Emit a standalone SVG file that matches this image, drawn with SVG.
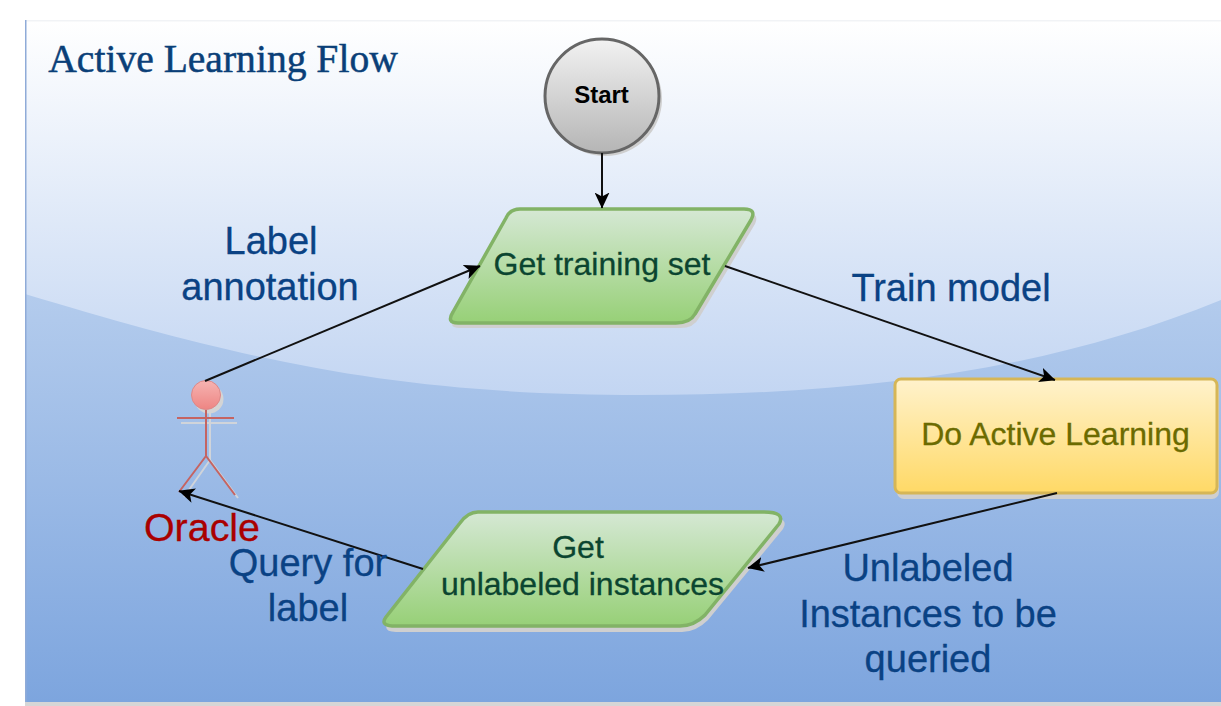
<svg xmlns="http://www.w3.org/2000/svg" width="1221" height="706" viewBox="0 0 1221 706">
<defs>
<linearGradient id="bg" gradientUnits="userSpaceOnUse" x1="0" y1="20" x2="0" y2="400"><stop offset="0" stop-color="#ffffff"/><stop offset="1" stop-color="#c2d5f2"/></linearGradient>
<linearGradient id="bg2" gradientUnits="userSpaceOnUse" x1="0" y1="290" x2="0" y2="702"><stop offset="0" stop-color="#b4cced"/><stop offset="1" stop-color="#7da5de"/></linearGradient>
<linearGradient id="grey" x1="0" y1="0" x2="0" y2="1"><stop offset="0" stop-color="#f2f2f2"/><stop offset="1" stop-color="#b5b5b5"/></linearGradient>
<linearGradient id="green" x1="0" y1="0" x2="0" y2="1"><stop offset="0" stop-color="#d5e8d4"/><stop offset="1" stop-color="#97d077"/></linearGradient>
<linearGradient id="yellow" x1="0" y1="0" x2="0" y2="1"><stop offset="0" stop-color="#fff2cc"/><stop offset="1" stop-color="#ffd966"/></linearGradient>
<linearGradient id="red" x1="0" y1="0" x2="0" y2="1"><stop offset="0" stop-color="#f6b4b2"/><stop offset="1" stop-color="#ee8583"/></linearGradient>
<marker id="arrow" viewBox="0 0 16 15" refX="15.5" refY="7.5" markerWidth="16" markerHeight="15" markerUnits="userSpaceOnUse" orient="auto"><path d="M0 0L16 7.5L0 15L4 7.5Z" fill="#000"/></marker>
</defs>
<style>
text{font-family:"Liberation Sans",Arial,sans-serif;text-anchor:middle}
.lbl{font-size:38px;fill:#0a4284;stroke:#0a4284;stroke-width:.3}
.node{font-size:32px;fill:#0b4530;stroke:#0b4530;stroke-width:.3}
.conn{fill:none;stroke:#111;stroke-width:2;marker-end:url(#arrow)}
.shadow{fill:#cfcfcf;stroke:none}
.para{fill:url(#green);stroke:#82b366;stroke-width:3.5;stroke-linejoin:round}
.fig{stroke:#c56462;stroke-width:2;fill:none}
.figs{stroke:#d0d4da;stroke-width:2;fill:none}
</style>
<rect width="1221" height="706" fill="#fff"/>
<g id="background">
<rect x="25" y="20" width="1196" height="682" fill="url(#bg)"/>
<rect x="25" y="20" width="1196" height="1.5" fill="#f1f3f6"/>
<path d="M25 294C250 362 400 395 640 395C860 395 1050 370 1221 300V702H25Z" fill="url(#bg2)"/>
<rect x="25" y="20" width="1.5" height="682" fill="#8fabd8"/>
<rect x="25" y="702" width="1196" height="4" fill="#d6d6d6"/>
</g>
<text id="title" x="223" y="72" style="font-family:'Liberation Serif',serif;font-size:39.6px;fill:#0a3f78;stroke:#0a3f78;stroke-width:.5">Active Learning Flow</text>
<g id="start">
<circle cx="605" cy="99" r="57" class="shadow"/>
<circle cx="602" cy="96" r="57" fill="url(#grey)" stroke="#666" stroke-width="3"/>
<text x="601.500" y="103" style="font-size:24px;font-weight:bold;fill:#000">Start</text>
</g>
<g id="get-training-set">
<path class="shadow" d="M521 213H747Q760 213 755 224L699 318Q694 328 680 328H460Q447 328 455 316L509 222Q513 213 521 213Z"/>
<path class="para" d="M520 209H744Q757 209 751 220L695 314Q690 323 676 323H458Q446 323 453 312L506 218Q510 209 520 209Z"/>
<text class="node" x="602" y="275">Get training set</text>
</g>
<g id="do-active-learning">
<rect x="897" y="384" width="322" height="115" rx="7" class="shadow"/>
<rect x="895" y="379" width="322" height="114" rx="6" fill="url(#yellow)" stroke="#d6b656" stroke-width="3"/>
<text x="1055.500" y="445" style="font-size:32px;fill:#6b6b00;stroke:#6b6b00;stroke-width:.3">Do Active Learning</text>
</g>
<g id="get-unlabeled-instances">
<path class="shadow" d="M482 517H768Q790 517 783 529L708 620Q696 632 682 632H396Q382 632 388 622L462 528Q470 517 482 517Z"/>
<path class="para" d="M478 512H764Q786 512 779 524L705 615Q694 626 680 626H392Q380 625 386 617L460 523Q468 512 478 512Z"/>
<text class="node" x="578" y="558">Get</text>
<text class="node" x="582.500" y="595">unlabeled instances</text>
</g>
<g id="oracle">
<path class="figs" d="M210 410V460M181 423H237M210 460L184 497M210 460L238 498"/>
<circle cx="209" cy="399" r="14.5" fill="#d4d4d4"/>
<circle cx="206" cy="395" r="14.5" fill="url(#red)" stroke="#d88" stroke-width="1"/>
<path class="fig" d="M206 410V456M177 418H234M206 456L179 492M206 456L235 495"/>
<text x="202" y="541" style="font-size:39.400px;fill:#aa0000;stroke:#aa0000;stroke-width:.3">Oracle</text>
</g>
<g id="connectors">
<line class="conn" x1="602" y1="153" x2="602" y2="208"/>
<line class="conn" x1="205" y1="381" x2="480" y2="266"/>
<line class="conn" x1="725" y1="266" x2="1055" y2="380"/>
<line class="conn" x1="1057" y1="493" x2="748" y2="568"/>
<line class="conn" x1="423" y1="569" x2="179" y2="491"/>
</g>
<g id="labels">
<text class="lbl" x="271" y="254">Label</text>
<text class="lbl" x="270" y="300">annotation</text>
<text class="lbl" x="951" y="301">Train model</text>
<text class="lbl" x="928" y="581">Unlabeled</text>
<text class="lbl" x="928" y="627">Instances to be</text>
<text class="lbl" x="928" y="672">queried</text>
<text class="lbl" x="308" y="576">Query for</text>
<text class="lbl" x="308" y="621">label</text>
</g>
</svg>
